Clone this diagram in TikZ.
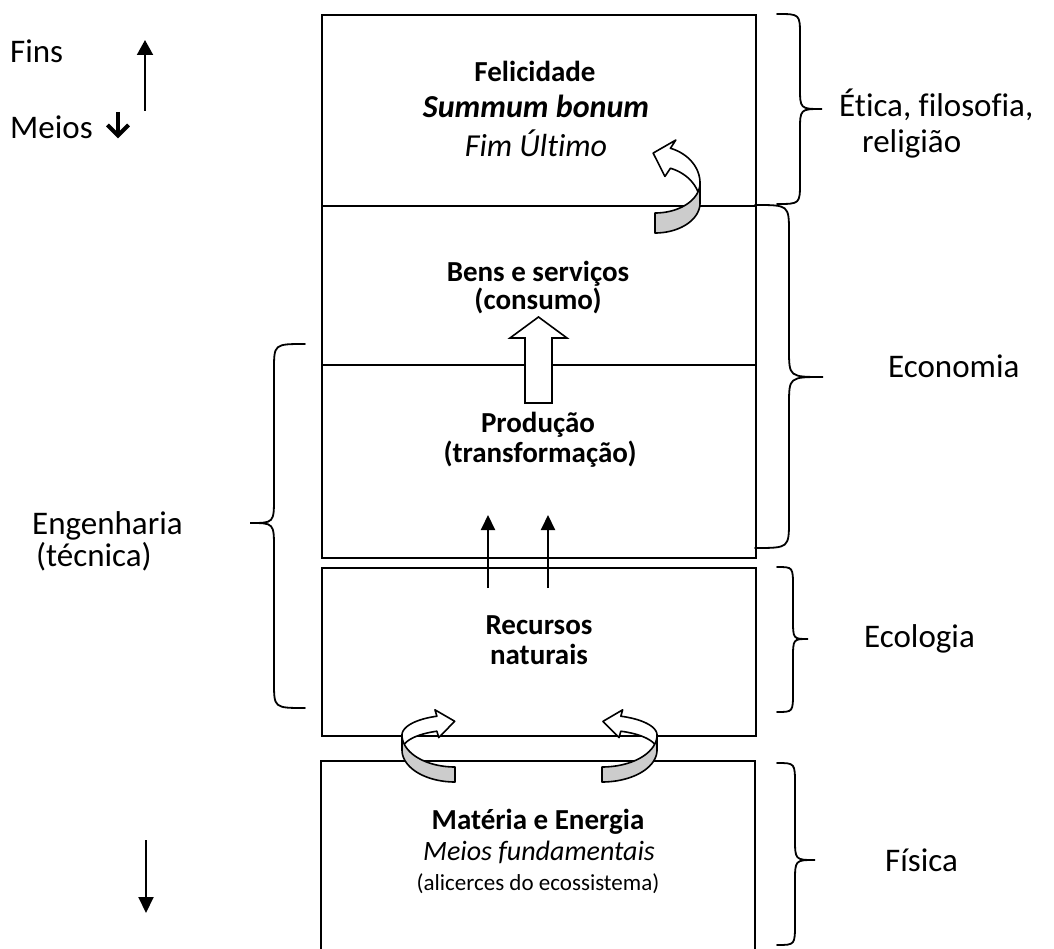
\documentclass[tikz,border=0pt]{standalone}
\usepackage{fontspec}
\setmainfont{Carlito}[Ligatures=NoCommon]
\usetikzlibrary{arrows.meta}
% right/left curly brace: x0 (end), x1 (stem), xt (tip), y0, ym, yb, ry
\newcommand\curly[7]{%
  \draw[brace] (#1,#4) .. controls (#2,#4) .. (#2,#4+#7) -- (#2,#5-#7)
    .. controls (#2,#5) .. (#3,#5) .. controls (#2,#5) .. (#2,#5+#7)
    -- (#2,#6-#7) .. controls (#2,#6) .. (#1,#6);}
% twisted ribbon arrow: cx, cy, a, bu, bl, w, T, xscale, barb half-width
\newcommand\twist[9]{%
  \begin{scope}[shift={(#1,#2)}, xscale=#8]
    \pgfmathsetmacro\twdx{-#3*sin(#7)}
    \pgfmathsetmacro\twdy{-#4*cos(#7)}
    \pgfmathsetmacro\twln{sqrt(\twdx*\twdx+\twdy*\twdy)}
    \pgfmathsetmacro\twux{\twdx/\twln}
    \pgfmathsetmacro\twuy{\twdy/\twln}
    \pgfmathsetmacro\twbx{#3*cos(#7)}
    \pgfmathsetmacro\twby{-#4*sin(#7)+#6/2}
    \draw[ribbon, fill=white]
      plot[domain=0:#7, samples=30, variable=\t] ({#3*cos(\t)}, {-#4*sin(\t)})
      -- ({\twbx-#9*\twuy}, {\twby+#9*\twux})
      -- ({\twbx+18*\twux}, {\twby+18*\twuy})
      -- ({\twbx+#9*\twuy}, {\twby-#9*\twux})
      -- plot[domain=#7:0, samples=30, variable=\t] ({#3*cos(\t)}, {-#4*sin(\t)+#6})
      -- cycle;
    \draw[ribbon, fill=gray!40]
      plot[domain=0:-90, samples=30, variable=\t] ({#3*cos(\t)}, {-#5*sin(\t)})
      -- plot[domain=-90:0, samples=30, variable=\t] ({#3*cos(\t)}, {-#5*sin(\t)+#6})
      -- cycle;
  \end{scope}}
\begin{document}
\begin{tikzpicture}[x=1pt, y=-1pt,
  box/.style={draw, line width=1.6pt, inner sep=0pt, anchor=north west, minimum width=434pt},
  brace/.style={line width=1.8pt, line cap=round},
  ribbon/.style={line width=1.6pt, line join=round},
  lab/.style={font=\fontsize{33}{40}\selectfont, inner sep=0pt, anchor=base west},
  btxt/.style={font=\bfseries\fontsize{29}{34}\selectfont, inner sep=0pt, anchor=base},
  bitxt/.style={font=\bfseries\itshape\fontsize{32}{38}\selectfont, inner sep=0pt, anchor=base},
  itxt/.style={font=\itshape\fontsize{32}{38}\selectfont, inner sep=0pt, anchor=base},
  mitxt/.style={font=\itshape\fontsize{28}{34}\selectfont, inner sep=0pt, anchor=base},
  stxt/.style={font=\fontsize{23}{28}\selectfont, inner sep=0pt, anchor=base},
  thinarrow/.style={line width=2pt, -{Triangle[length=15pt, width=14pt]}},
  block/.style={line width=1.6pt, fill=white, line join=miter}
]
\fill[white] (0,0) rectangle (1054,949);
\useasboundingbox (0,0) rectangle (1054,949);

% boxes
\node[box, minimum height=191pt] (b1) at (321,14) {};
\node[box, minimum height=159pt] (b2) at (321,205) {};
\node[box, minimum height=193pt] (b3) at (321,364) {};
\node[box, minimum height=168pt] (b4) at (321,567) {};
\draw[line width=1.6pt] (321,960) -- (321,761) -- (755,761) -- (755,960);
\coordinate (b5) at (538,761);

% left labels
\node[lab] (fins) at (10,63) {Fins};
\node[lab] (meios) at (10,139) {Meios};
\draw[line width=4pt] (118,112) -- (118,135);
\draw[line width=4pt, line join=miter] (107.5,125) -- (118,135.5) -- (128.5,125);
\coordinate (fa1) at (145,111);
\coordinate (fa2) at (145,40);
\draw[line width=2pt, -{Triangle[length=15pt, width=16pt]}] (fa1) -- (fa2);
\coordinate (da1) at (146,840);
\coordinate (da2) at (146,913);
\draw[line width=2pt, -{Triangle[length=16pt, width=15pt]}] (da1) -- (da2);

\node[lab] (eng) at (32,534) {Engenharia};
\node[lab] (tec) at (36,566) {(técnica)};

% right labels
\node[lab] (etica) at (839,117) {Ética, filosofia,};
\node[lab] (relig) at (862,153) {religião};
\node[lab] (econ) at (888,377) {Economia};
\node[lab] (ecol) at (864,647) {Ecologia};
\node[lab] (fis) at (885,871) {Física};

% braces
\curly{777}{800}{822}{14}{109}{204}{22}
\curly{755}{789}{823}{205}{377}{548}{28}
\curly{305}{274}{250}{344}{523}{708}{26}
\curly{777}{793}{808}{567}{639}{712}{20}
\curly{777}{795}{815}{763}{860}{945}{22}

% box texts
\node[btxt] (fel) at (535,82) {Felicidade};
\node[bitxt] (sb) at (536,118) {Summum bonum};
\node[itxt] (fu) at (536,157) {Fim Último};
\node[btxt] (bens) at (538,282) {Bens e serviços};
\node[btxt] (cons) at (538,309) {(consumo)};
\node[btxt] (prod) at (538,432) {Produção};
\node[btxt] (transf) at (540,462) {(transformação)};
\node[btxt] (rec) at (539,634) {Recursos};
\node[btxt] (nat) at (539,664) {naturais};
\node[btxt] (mat) at (538,829) {Matéria e Energia};
\node[mitxt] (mf) at (539,860) {Meios fundamentais};
\node[stxt] (alic) at (538,890) {(alicerces do ecossistema)};

% block arrow
\draw[block] (525,403) -- (552,403) -- (552,338) -- (567,338) -- (538.5,317) -- (510,338) -- (525,338) -- cycle;

% thin arrows
\coordinate (r1) at (488,588);
\coordinate (p1) at (488,515);
\coordinate (r2) at (548,588);
\coordinate (p2) at (548,515);
\draw[thinarrow] (r1) -- (p1);
\draw[thinarrow] (r2) -- (p2);

% twisted arrows
\twist{655}{183}{45}{37}{30}{20}{70}{1}{19}
\twist{602}{735}{55}{20}{32}{15}{70}{1}{14}
\twist{455}{735}{53}{20}{32}{15}{70}{-1}{14}
\end{tikzpicture}
\end{document}
